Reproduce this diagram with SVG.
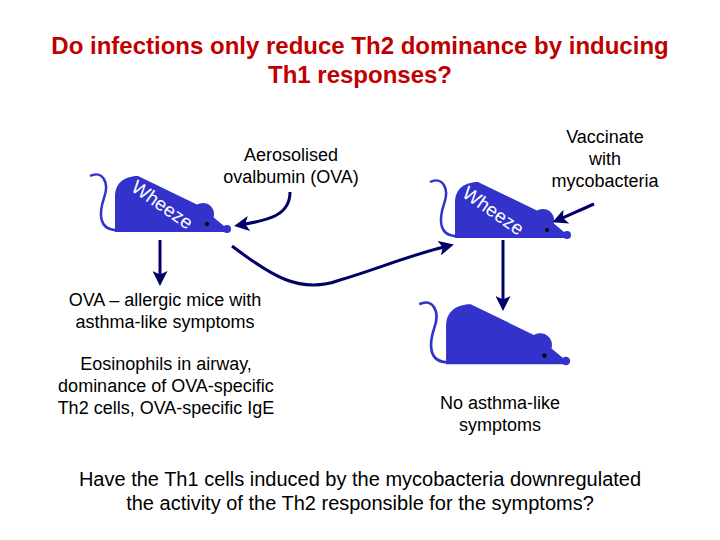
<svg xmlns="http://www.w3.org/2000/svg" width="720" height="540" viewBox="0 0 720 540">
<style>
text{font-family:"Liberation Sans",Arial,sans-serif;font-size:18px;fill:#000;text-anchor:middle}
.t{fill:#c00000;font-size:24px;font-weight:bold}
.q{font-size:20px}
.body{fill:#3333cc}
.tail{fill:none;stroke:#3333cc;stroke-width:2.5}
.wz{fill:#fff;font-size:19px;text-anchor:start}
.ar{fill:none;stroke:#000066;stroke-width:3;marker-end:url(#ah)}
</style>
<defs>
<marker id="ah" markerWidth="5" markerHeight="5" refX="3" refY="2.5" orient="auto"><path d="M0,0 L5,2.5 L0,5 L1.2,2.5 Z" fill="#000066"/></marker>
<g id="mouse">
<path class="tail" d="M120,230 C96,232 100,210 104,198 C110,182 102,170 90,176"/>
<path class="body" d="M115,232 L115,196 C115,182 126,176 138,176 L200,206 L224,226 L226,232 Z"/>
<circle class="body" cx="203" cy="214" r="11"/>
<circle class="body" cx="227" cy="229" r="4"/>
<circle cx="207" cy="224" r="2" fill="#000"/>
</g>
</defs>
<text class="t" x="360" y="54">Do infections only reduce Th2 dominance by inducing</text>
<text class="t" x="360" y="83">Th1 responses?</text>
<g id="mouse1"><use href="#mouse"/><text class="wz" transform="translate(130,190) rotate(35)">Wheeze</text></g>
<g id="mouse2"><use href="#mouse" transform="translate(340,6)"/><text class="wz" transform="translate(461,196) rotate(35)">Wheeze</text></g>
<g id="mouse3"><use href="#mouse" transform="translate(323,116) scale(1.07)"/></g>
<g id="labels">
<text x="291" y="161">Aerosolised</text>
<text x="291" y="183">ovalbumin (OVA)</text>
<text x="605" y="143">Vaccinate</text>
<text x="605" y="165">with</text>
<text x="605" y="187">mycobacteria</text>
<text x="165" y="306">OVA – allergic mice with</text>
<text x="165" y="328">asthma-like symptoms</text>
<text x="166" y="370">Eosinophils in airway,</text>
<text x="166" y="392">dominance of OVA-specific</text>
<text x="166" y="414">Th2 cells, OVA-specific IgE</text>
<text x="500" y="409">No asthma-like</text>
<text x="500" y="431">symptoms</text>
<text class="q" x="360" y="486">Have the Th1 cells induced by the mycobacteria downregulated</text>
<text class="q" x="360" y="510">the activity of the Th2 responsible for the symptoms?</text>
</g>
<g id="connectors">
<path class="ar" d="M160,240 L160,280"/>
<path class="ar" d="M290,192 C290,215 270,220 240,225"/>
<path class="ar" d="M594,204 C580,210 570,215 558,220"/>
<path class="ar" d="M232,246 C270,275 300,295 340,280 C380,268 410,255 448,246"/>
<path class="ar" d="M503,240 L503,305"/>
</g>
</svg>
